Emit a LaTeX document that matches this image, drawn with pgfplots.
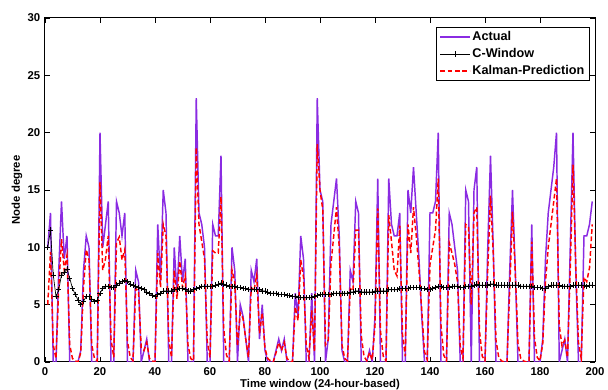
\documentclass[border=0pt]{standalone}
\usepackage{fontspec}
\setmainfont{Liberation Sans}
\usepackage{pgfplots}
\usepackage{pgfplotstable}
\pgfplotsset{compat=1.18}
\definecolor{actual}{RGB}{138,43,226}
\pgfplotstableread{
x A C K
1 10 10.0 5.0
2 13 11.5 9.6
3 0 7.6 1.5
4 0 5.7 0.3
5 8 6.3 6.5
6 14 7.6 10.7
7 9 7.8 8.0
8 11 8.1 9.3
9 0 7.3 1.5
10 0 6.4 0.3
11 0 5.9 0.1
12 0 5.4 0.0
13 1 5.0 0.8
14 8 5.3 6.5
15 11 5.7 9.8
16 10 5.7 8.9
17 0 5.5 1.5
18 0 5.3 0.3
19 0 5.4 0.1
20 20 6.0 15.7
21 10 6.4 8.0
22 12 6.6 9.0
23 14 6.6 11.0
24 0 6.5 2.0
25 0 6.5 0.4
26 14 6.7 10.4
27 13 6.9 10.9
28 11 7.0 8.9
29 13 7.1 9.8
30 0 7.0 1.8
31 0 6.8 0.4
32 0 6.7 0.1
33 8 6.6 6.4
34 7 6.5 6.2
35 0 6.4 1.2
36 1 6.3 1.0
37 2 6.1 1.7
38 0 6.0 0.3
39 0 5.8 0.1
40 0 5.7 0.0
41 12 5.9 9.5
42 7 6.0 6.5
43 15 6.2 12.0
44 13 6.2 11.0
45 0 6.2 2.0
46 0 6.2 0.4
47 10 6.3 8.0
48 6 6.3 5.5
49 11 6.4 8.8
50 7 6.4 6.5
51 9 6.3 7.5
52 0 6.2 1.5
53 0 6.2 0.3
54 0 6.3 0.1
55 23 6.4 18.7
56 13 6.5 12.0
57 12 6.6 10.5
58 10 6.6 9.0
59 0 6.6 1.8
60 0 6.6 0.4
61 12 6.6 9.7
62 11 6.7 9.5
63 11 6.8 9.5
64 18 6.9 14.4
65 0 6.8 2.9
66 0 6.7 0.6
67 0 6.6 0.1
68 10 6.6 8.0
69 8 6.6 7.0
70 0 6.5 1.4
71 5 6.5 4.3
72 4 6.4 3.8
73 2 6.4 2.0
74 0 6.3 0.4
75 8 6.3 6.5
76 7 6.3 6.2
77 9 6.3 7.6
78 2 6.3 2.5
79 5 6.2 4.3
80 1 6.2 1.2
81 0 6.1 0.3
82 0 6.0 0.1
83 0 6.0 0.0
84 1 6.0 0.8
85 2 5.9 1.7
86 1 5.9 1.0
87 2 5.9 1.7
88 0 5.8 0.3
89 0 5.8 0.1
90 0 5.7 0.0
91 6 5.7 4.8
92 4 5.6 3.6
93 11 5.6 8.9
94 9 5.6 7.4
95 0 5.6 1.5
96 0 5.6 0.3
97 6 5.6 4.5
98 0 5.7 0.9
99 23 5.8 19.0
100 15 5.9 15.0
101 14 5.9 13.3
102 0 5.9 1.5
103 2 5.9 1.9
104 12 5.9 8.6
105 14 6.0 11.0
106 16 6.0 13.5
107 11 6.0 10.0
108 1 6.0 1.5
109 0 6.0 0.3
110 0 6.0 0.1
111 8 6.1 6.4
112 7 6.1 6.2
113 14 6.2 11.5
114 13 6.2 11.5
115 0 6.1 2.3
116 0 6.1 0.5
117 0 6.1 0.1
118 1 6.1 0.8
119 0 6.1 0.2
120 4 6.2 3.2
121 16 6.2 13.4
122 0 6.2 2.7
123 0 6.2 0.5
124 0 6.2 0.1
125 16 6.3 12.8
126 12 6.3 10.5
127 11 6.3 8.0
128 11 6.3 7.5
129 13 6.4 11.9
130 0 6.4 2.4
131 0 6.4 0.5
132 15 6.4 12.0
133 13 6.5 9.5
134 17 6.5 13.5
135 13 6.5 11.0
136 9 6.5 8.0
137 4 6.4 4.5
138 0 6.4 0.9
139 0 6.3 0.2
140 13 6.3 8.5
141 13 6.4 10.0
142 14 6.5 11.5
143 20 6.6 16.0
144 0 6.6 3.2
145 0 6.5 0.6
146 0 6.5 0.1
147 13 6.5 10.4
148 12 6.6 9.5
149 10 6.6 8.5
150 8 6.6 7.0
151 0 6.5 1.4
152 0 6.5 0.3
153 15 6.6 12.0
154 14 6.6 11.8
155 0 6.6 5.0
156 15 6.7 13.0
157 17 6.8 13.5
158 0 6.7 2.7
159 0 6.7 0.5
160 0 6.7 0.1
161 10 6.7 8.0
162 18 6.8 14.5
163 10 6.8 9.5
164 0 6.7 1.9
165 0 6.7 0.4
166 0 6.7 0.1
167 0 6.7 0.0
168 0 6.7 0.0
169 8 6.7 6.4
170 15 6.7 13.1
171 8 6.7 8.0
172 0 6.7 1.6
173 0 6.6 0.3
174 0 6.6 0.1
175 0 6.6 0.0
176 0 6.6 0.0
177 12 6.6 10.5
178 0 6.5 2.1
179 0 6.5 0.4
180 0 6.5 0.1
181 2 6.4 1.6
182 9 6.4 7.0
183 13 6.6 10.0
184 15 6.7 12.0
185 17 6.7 14.0
186 20 6.7 16.0
187 0 6.7 3.2
188 1 6.6 1.4
189 2 6.6 1.9
190 0 6.6 0.4
191 10 6.6 8.0
192 20 6.7 17.2
193 8 6.7 8.5
194 0 6.7 1.7
195 0 6.7 0.3
196 11 6.7 7.4
197 11 6.6 7.0
198 12 6.7 8.2
199 14 6.7 12.0
}\data
\begin{document}
\begin{tikzpicture}
\begin{axis}[
  scale only axis, width=412.5pt, height=258pt,
  xmin=0, xmax=200, ymin=0, ymax=30,
  xtick={0,20,...,200}, ytick={0,5,...,30},
  tick align=inside, major tick length=4pt,
  xtick pos=both, ytick pos=both,
  xticklabel pos=lower, yticklabel pos=left,
  axis line style={line width=0.75pt},
  every tick/.style={black, line width=0.6pt},
  /pgf/number format/assume math mode=true,
  tick label style={font=\fontsize{8.5}{10}\selectfont\bfseries},
  xticklabel style={yshift=-1pt},
  xlabel={Time window (24-hour-based)},
  ylabel={Node degree},
  label style={font=\fontsize{8.5}{10}\selectfont\bfseries},
  xlabel style={at={(axis description cs:0.5,-0.05)}, anchor=north, inner sep=0pt},
  ylabel style={at={(axis description cs:-0.051,0.5)}, anchor=center, inner sep=0pt},
  legend style={at={(axis description cs:0.991,0.974)}, anchor=north east,
    font=\fontsize{9.5}{11}\selectfont\bfseries, draw=black, fill=white,
    line width=0.6pt,
    inner xsep=2.5pt, inner ysep=1.2pt, row sep=0.75pt,
    nodes={inner sep=1.5pt, text height=7pt, text depth=2pt}},
  legend cell align=left,
  legend image code/.code={\draw[mark repeat=2,mark phase=2,#1] plot coordinates {(0pt,0pt) (11pt,0pt) (22pt,0pt)};},
]
\coordinate (ll) at (rel axis cs:0,0);
\coordinate (ur) at (rel axis cs:1,1);
\addplot[color=actual, line width=1.1pt] table[x=x,y=A]{\data};
\addlegendentry{Actual}
\addplot[black, line width=0.5pt, mark=+, mark size=2pt, mark options={line width=0.5pt, solid}] table[x=x,y=C]{\data};
\addlegendentry{C-Window}
\addplot[red, line width=1.1pt, dash pattern=on 3.5pt off 2pt] table[x=x,y=K]{\data};
\addlegendentry{Kalman-Prediction}
\end{axis}
\pgfresetboundingbox
\useasboundingbox ([shift={(-33.75pt,-21pt)}]ll) rectangle ([shift={(9.75pt,13.5pt)}]ur);
\end{tikzpicture}
\end{document}
